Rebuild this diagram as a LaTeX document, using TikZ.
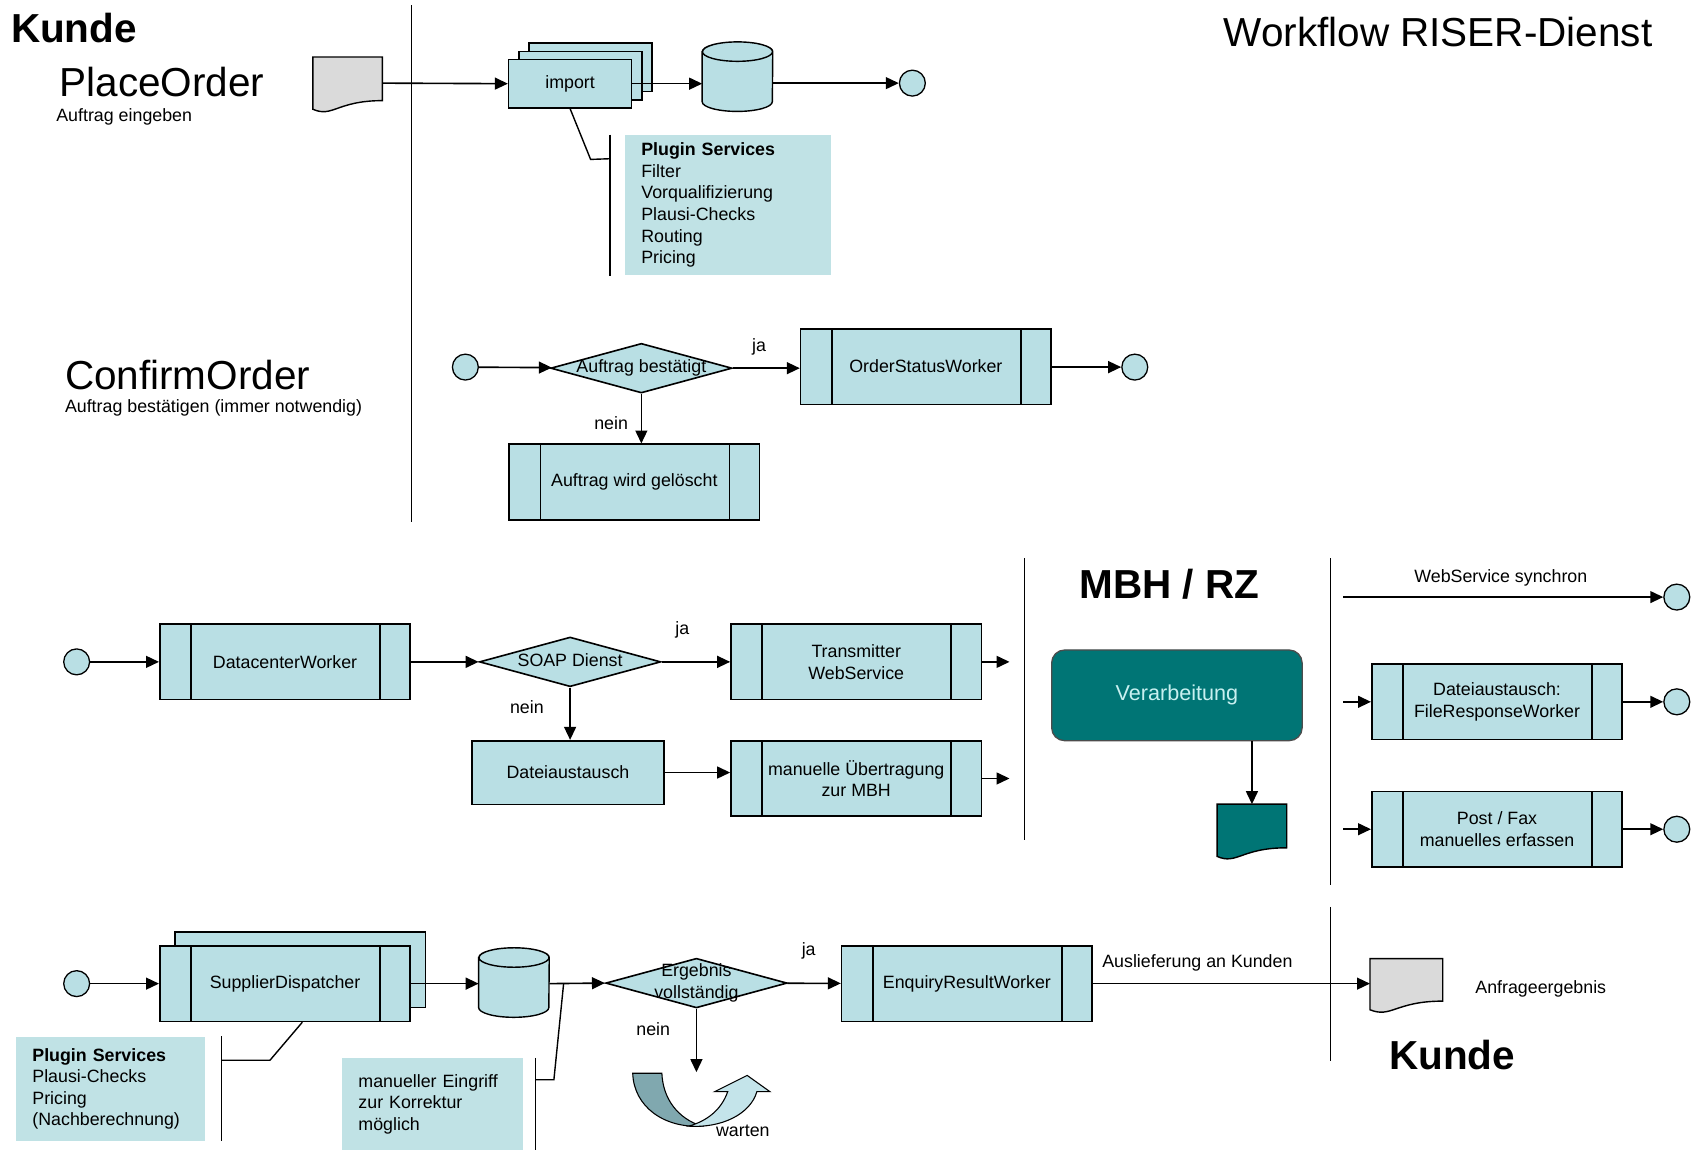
\documentclass[tikz,border=0pt]{standalone}
\usepackage{fontspec}
\setmainfont{Liberation Sans}
\usepackage{tikz}
\usetikzlibrary{shapes,arrows.meta,shadows}

\definecolor{boxblue}{RGB}{185,223,228}
\definecolor{noteblue}{RGB}{192,226,229}
\definecolor{tealbox}{RGB}{0,117,117}
\definecolor{tealtext}{RGB}{200,240,240}
\definecolor{docgray}{RGB}{218,218,218}
\definecolor{turndark}{RGB}{128,168,175}
\definecolor{turnlight}{RGB}{196,228,234}

\newcommand{\smalltxt}{\fontsize{16.5}{20}\selectfont}
\newcommand{\bigtxt}{\fontsize{37.5}{42}\selectfont}
\newcommand{\dtext}[1]{\makebox[0pt]{\begin{tabular}{@{}c@{}}#1\end{tabular}}}
\newcommand{\docwave}[2]{\draw[line width=1.3pt, fill=#2] (#1.north west) -- (#1.north east) -- ([yshift=8pt]#1.south east)
  .. controls ([xshift=-10pt,yshift=8pt]#1.south) and ([xshift=-14pt,yshift=-8pt]#1.south) .. (#1.south west) -- cycle;}
\newcommand{\drum}[1]{\draw[line width=1.3pt, fill=boxblue] ([yshift=-9pt]#1.north west) -- ([yshift=9pt]#1.south west)
  arc[start angle=180, end angle=360, x radius=32.5pt, y radius=9pt] -- ([yshift=-9pt]#1.north east)
  arc[start angle=0, end angle=180, x radius=32.5pt, y radius=9pt] -- cycle
  ([yshift=-9pt]#1.north) ellipse[x radius=32.5pt, y radius=9pt];}

\tikzstyle{worker}=[rectangle, draw=black, fill=boxblue, line width=1.5pt, minimum width=232pt, minimum height=70pt, align=center, font=\smalltxt,
  path picture={\draw[line width=1.5pt] ([xshift=29pt]path picture bounding box.north west) -- ([xshift=29pt]path picture bounding box.south west)
    ([xshift=-28pt]path picture bounding box.north east) -- ([xshift=-28pt]path picture bounding box.south east);}]
\tikzstyle{filebox}=[rectangle, draw=black, fill=boxblue, line width=1.5pt, font=\smalltxt]
\tikzstyle{decision}=[diamond, draw=black, fill=boxblue, line width=1.5pt, minimum width=168pt, minimum height=46pt, font=\smalltxt]
\tikzstyle{event}=[circle, draw=black, fill=boxblue, line width=1.2pt, minimum size=24pt]
\tikzstyle{store}=[rectangle, minimum width=65pt, minimum height=64pt]
\tikzstyle{docbox}=[rectangle, minimum width=64pt, minimum height=48pt]
\tikzstyle{note}=[rectangle, fill=noteblue, align=left, inner xsep=15pt, font=\smalltxt]
\tikzstyle{txt}=[font=\smalltxt]
\tikzstyle{headline}=[font=\bigtxt]
\tikzstyle{flow}=[line width=1.5pt, -{Triangle[length=12pt,width=11pt]}]
\tikzstyle{rule}=[line width=1.3pt]

\begin{document}
\begin{tikzpicture}[x=1pt, y=-1pt, inner sep=0pt]
\useasboundingbox (0,0) rectangle (1568,1067);

% PlaceOrder
\node[headline, font={\bigtxt\bfseries}, anchor=west] (kunde1) at (10,26) {Kunde};
\node[headline, anchor=west] (title) at (1133,30) {Workflow RISER-Dienst};
\node[headline, anchor=west] (place) at (55,76) {PlaceOrder};
\node[txt, anchor=west] (placesub) at (52,108) {Auftrag eingeben};
\draw[rule] (381,5) -- (381,483);
\node[docbox] (pdoc) at (322,77) {};
\docwave{pdoc}{docgray}
\node[rectangle, draw=black, fill=boxblue, line width=1.3pt, minimum width=114pt, minimum height=45pt, font=\smalltxt,
  copy shadow={shadow xshift=19pt, shadow yshift=15pt}, copy shadow={shadow xshift=9.5pt, shadow yshift=7.5pt}] (imp) at (528,77.5) {import};
\node[store] (db1) at (683,71) {};
\drum{db1}
\node[event] (end1) at (845,77) {};
\node[note, text width=161pt, minimum height=130pt] (plug1) at (674.5,190)
  {\textbf{Plugin Services}\\Filter\\Vorqualifizierung\\Plausi-Checks\\Routing\\Pricing};
\coordinate (br1) at (565,147);
\draw[flow] (pdoc.east) -- (imp.west);
\draw[flow] (imp.east) -- (imp.east -| db1.west);
\draw[flow] (db1.east |- end1) -- (end1);
\draw[rule] (br1 |- plug1.north) -- (br1 |- plug1.south);
\draw[rule] (imp.south) -- ++(19,47) -- (br1);

% ConfirmOrder
\node[headline, anchor=west] (confirm) at (60,347) {ConfirmOrder};
\node[txt, anchor=west] (confirmsub) at (60,378) {Auftrag bestätigen (immer notwendig)};
\node[event] (start2) at (431,340) {};
\node[decision] (dec1) at (594,341) {\dtext{Auftrag bestätigt}};
\node[worker] (osw) at (857.5,339.5) {OrderStatusWorker};
\node[event] (end2) at (1051,340) {};
\node[worker] (del) at (587.5,446.5) {Auftrag wird gelöscht};
\node[txt] (ja1) at (703,321) {ja};
\node[txt] (nein1) at (566,392) {nein};
\draw[flow] (start2) -- (dec1);
\draw[flow] (dec1.east) -- (dec1.east -| osw.west);
\draw[flow] (osw.east |- end2) -- (end2);
\draw[flow] (dec1.south) -- (dec1.south |- del.north);

% Datacenter
\node[event] (start3) at (71,613) {};
\node[worker] (dcw) at (264,613) {DatacenterWorker};
\node[decision] (dec2) at (528,613) {\dtext{SOAP Dienst}};
\node[worker] (tws) at (793,613) {Transmitter\\WebService};
\node[filebox, minimum width=178pt, minimum height=59pt] (dat) at (526,715.5) {Dateiaustausch};
\node[worker] (mue) at (793,721) {manuelle Übertragung\\zur MBH};
\coordinate (out1) at (935,613);
\coordinate (out2) at (935,721);
\node[txt] (ja2) at (632,583) {ja};
\node[txt] (nein2) at (488,655) {nein};
\draw[flow] (start3) -- (dcw);
\draw[flow] (dcw) -- (dec2);
\draw[flow] (dec2) -- (tws);
\draw[flow] (tws.east) -- (out1);
\draw[flow] (dec2.south) -- (dec2.south |- dat.north);
\draw[flow] (dat.east) -- (dat.east -| mue.west);
\draw[flow] (mue.east) -- (out2);

% MBH / RZ
\draw[rule] (949,517) -- (949,778);
\node[headline, font={\bigtxt\bfseries}] (mbh) at (1083,541) {MBH / RZ};
\node[rectangle, rounded corners=12pt, draw=black!70, line width=1.2pt, fill=tealbox, text=tealtext, minimum width=232pt, minimum height=84pt,
  font=\fontsize{20}{24}\selectfont] (verarb) at (1090,644) {Verarbeitung};
\node[docbox] (tdoc) at (1159.5,769) {};
\docwave{tdoc}{tealbox}
\draw[flow] (verarb.south -| tdoc.north) -- (tdoc.north);

% Rueckmeldung
\draw[rule] (1232,517) -- (1232,820);
\node[txt] (wss) at (1390,535) {WebService synchron};
\node[worker] (frw) at (1386.5,650) {Dateiaustausch:\\FileResponseWorker};
\node[worker] (pfx) at (1386.5,768) {Post / Fax\\manuelles erfassen};
\node[event] (end3) at (1553,553) {};
\node[event] (end4) at (1553,650) {};
\node[event] (end5) at (1553,768) {};
\coordinate (in1) at (1244,553);
\coordinate (in2) at (1244,650);
\coordinate (in3) at (1244,768);
\draw[flow] (in1) -- (end3);
\draw[flow] (in2) -- (frw.west);
\draw[flow] (in3) -- (pfx.west);
\draw[flow] (frw) -- (end4);
\draw[flow] (pfx) -- (end5);

% SupplierDispatcher
\node[event] (start4) at (71,911) {};
\node[worker, copy shadow={shadow xshift=14pt, shadow yshift=13pt}] (sup) at (264,911) {SupplierDispatcher};
\node[store] (db2) at (476,910) {};
\drum{db2}
\node[decision] (dec3) at (645,910.5) {\dtext{Ergebnis\\vollständig}};
\node[worker] (erw) at (895.5,911) {EnquiryResultWorker};
\node[docbox, minimum width=67pt, minimum height=47pt] (adoc) at (1302.5,911.5) {};
\docwave{adoc}{docgray}
\node[txt] (anfr) at (1427,916) {Anfrageergebnis};
\node[txt] (ausl) at (1109,892) {Auslieferung an Kunden};
\draw[rule] (1232,840) -- (1232,983);
\node[headline, font={\bigtxt\bfseries}] (kunde2) at (1345,977) {Kunde};
\node[txt] (ja3) at (749,881) {ja};
\node[txt] (nein3) at (605,953) {nein};
\coordinate (wait) at (645,993);
\coordinate (tap) at (522,911);
\draw[flow] (start4) -- (sup);
\draw[flow] (sup.east) -- (sup.east -| db2.west);
\draw[flow] (db2.east |- tap) -- (dec3.west);
\draw[flow] (dec3) -- (erw);
\draw[flow] (erw.east) -- (erw.east -| adoc.west);
\draw[flow] (dec3.south) -- (wait);

% warten
\draw[line width=1pt, fill=turndark] (586,994) -- (613,994) .. controls (614,1018) and (628,1036) .. (650,1043)
  .. controls (615,1045) and (587,1025) .. (586,994) -- cycle;
\draw[line width=1pt, fill=turnlight] (638,1043) .. controls (668,1045) and (695,1032) .. (701,1011) -- (713,1011) -- (692,996)
  -- (662,1011) -- (674,1011) .. controls (668,1028) and (655,1038) .. (638,1043) -- cycle;
\node[txt] (warten) at (688,1047) {warten};

% Anmerkungen
\node[note, text width=145pt, minimum height=97pt] (plug2) at (102.5,1008.5)
  {\textbf{Plugin Services}\\Plausi-Checks\\Pricing\\(Nachberechnung)};
\node[note, text width=137pt, minimum height=85pt] (manu) at (400.5,1022.5) {manueller Eingriff\\zur Korrektur\\möglich};
\coordinate (br2) at (205,982);
\coordinate (br3) at (496,1000);
\draw[rule] (br2 |- plug2.north) -- (br2 |- plug2.south);
\draw[rule] (br2) -- ++(45,0) -- ([xshift=16pt]sup.south);
\draw[rule] (br3 |- manu.north) -- (br3 |- manu.south);
\draw[rule] (br3) -- ++(17,0) -- (tap);
\end{tikzpicture}
\end{document}
